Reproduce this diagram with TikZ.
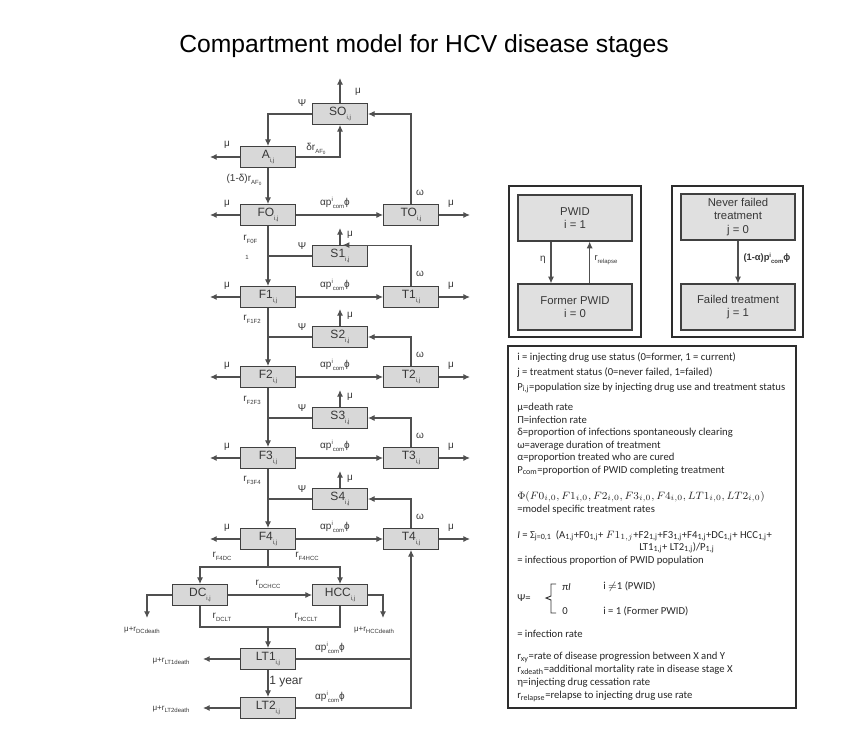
\documentclass[tikz,border=0pt]{standalone}
\usepackage{fontspec}
\setmainfont{Liberation Sans}
\newfontfamily\legendfont{Carlito}
\usepackage{xcolor}
\usepackage{tikz}
\usetikzlibrary{arrows.meta}
\definecolor{boxgray}{RGB}{216,216,216}
\definecolor{boxline}{RGB}{64,64,64}
\definecolor{linegray}{RGB}{80,80,80}
\definecolor{txtgray}{RGB}{55,55,55}
\definecolor{framegray}{RGB}{45,45,45}
\newcommand{\sbx}[1]{\raisebox{-0.55ex}{\fontsize{4.5}{5}\selectfont #1}}
\newcommand{\cmp}[1]{#1\sbx{i,j}}
\newcommand{\rate}[1]{r\sbx{#1}}
\newcommand{\treat}{αp\raisebox{0.7ex}{\fontsize{4.5}{5}\selectfont i}\sbx{com}ϕ}
\newcommand{\legsub}[1]{\textsubscript{#1}}

\begin{document}
\begin{tikzpicture}[x=0.75pt, y=-0.75pt, every node/.style={text=txtgray},
    box/.style={rectangle, draw=boxline, fill=boxgray, line width=0.9pt,
                minimum width=41pt, minimum height=15.5pt, inner sep=0pt,
                font=\fontsize{9}{10}\selectfont},
    state/.style={rectangle, draw=boxline, fill=boxgray!80, line width=0.9pt,
                minimum width=85.5pt, minimum height=34.5pt, inner sep=0pt,
                align=center, font=\fontsize{8.5}{10}\selectfont},
    frame/.style={rectangle, draw=framegray, line width=1.2pt, inner sep=0pt},
    arr/.style={-{Latex[length=5pt,width=4.5pt]}, draw=linegray, line width=0.8pt},
    ln/.style={draw=linegray, line width=0.8pt},
    lbl/.style={font=\fontsize{7.5}{8}\selectfont, inner sep=0pt},
    dth/.style={font=\fontsize{6}{7}\selectfont, inner sep=0pt},
    legtxt/.style={font=\legendfont\fontsize{8}{9.4}\selectfont, anchor=north west,
                   align=left, inner sep=0pt, text=black!85}]

    \useasboundingbox (0,0) rectangle (854,734);

    %% Title
    \node[font=\fontsize{18.5}{20}\selectfont, text=black] (title) at (424,46)
      {Compartment model for HCV disease stages};

    %% Compartments
    \node[box] (SO)  at (340,114) {\cmp{SO}};
    \node[box] (A)   at (268,157) {\cmp{A}};
    \node[box] (FO)  at (268,215) {\cmp{FO}};
    \node[box] (TO)  at (411,215) {\cmp{TO}};
    \node[box] (S1)  at (340,256) {\cmp{S1}};
    \node[box] (F1)  at (268,297) {\cmp{F1}};
    \node[box] (T1)  at (411,297) {\cmp{T1}};
    \node[box] (S2)  at (340,337) {\cmp{S2}};
    \node[box] (F2)  at (268,377) {\cmp{F2}};
    \node[box] (T2)  at (411,377) {\cmp{T2}};
    \node[box] (S3)  at (340,418) {\cmp{S3}};
    \node[box] (F3)  at (268,458) {\cmp{F3}};
    \node[box] (T3)  at (411,458) {\cmp{T3}};
    \node[box] (S4)  at (340,499) {\cmp{S4}};
    \node[box] (F4)  at (268,539) {\cmp{F4}};
    \node[box] (T4)  at (411,539) {\cmp{T4}};
    \node[box] (DC)  at (200,595) {\cmp{DC}};
    \node[box] (HCC) at (340,595) {\cmp{HCC}};
    \node[box] (LT1) at (268,659) {\cmp{LT1}};
    \node[box] (LT2) at (268,708) {\cmp{LT2}};

    %% Free ends
    \coordinate (muSO) at (340,78);
    \coordinate (muA)  at (210,157);
    \coordinate (muFO) at (210,215);
    \coordinate (muTO) at (470,215);
    \coordinate (muS1) at (340,228);
    \coordinate (muF1) at (210,297);
    \coordinate (muT1) at (470,297);
    \coordinate (muS2) at (340,309);
    \coordinate (muF2) at (210,377);
    \coordinate (muT2) at (470,377);
    \coordinate (muS3) at (340,390);
    \coordinate (muF3) at (210,458);
    \coordinate (muT3) at (470,458);
    \coordinate (muS4) at (340,471);
    \coordinate (muF4) at (210,539);
    \coordinate (muT4) at (470,539);
    \coordinate (S1in) at ([xshift=2pt]S1.north);
    \coordinate (split) at (268,567);
    \coordinate (merge) at (268,627);
    \coordinate (DCdeath)  at (147,618);
    \coordinate (HCCdeath) at (383,618);
    \coordinate (muLT1) at (203,659);
    \coordinate (muLT2) at (203,708);

    %% Acute and stage F0
    \draw[arr] (SO.north) -- (muSO);
    \draw[arr] (SO.west) -| (A.north);
    \draw[arr] (A.east) -| (SO.south);
    \draw[arr] (A.west) -- (muA);
    \draw[arr] (A.south) -- (FO.north);
    \draw[arr] (FO.west) -- (muFO);
    \draw[arr] (FO.east) -- (TO.west);
    \draw[arr] (TO.east) -- (muTO);
    \draw[arr] (TO.north) |- (SO.east);

    %% Stage F1
    \draw[arr] (FO.south) -- (F1.north);
    \draw[ln] (S1.west) -- (S1.west -| FO.south);
    \draw[arr] (S1.north) -- (muS1);
    \draw[arr] (T1.north) |- (S1in);
    \draw[arr] (F1.west) -- (muF1);
    \draw[arr] (F1.east) -- (T1.west);
    \draw[arr] (T1.east) -- (muT1);

    %% Stage F2
    \draw[arr] (F1.south) -- (F2.north);
    \draw[ln] (S2.west) -- (S2.west -| F1.south);
    \draw[arr] (S2.north) -- (muS2);
    \draw[arr] (T2.north) |- (S2.east);
    \draw[arr] (F2.west) -- (muF2);
    \draw[arr] (F2.east) -- (T2.west);
    \draw[arr] (T2.east) -- (muT2);

    %% Stage F3
    \draw[arr] (F2.south) -- (F3.north);
    \draw[ln] (S3.west) -- (S3.west -| F2.south);
    \draw[arr] (S3.north) -- (muS3);
    \draw[arr] (T3.north) |- (S3.east);
    \draw[arr] (F3.west) -- (muF3);
    \draw[arr] (F3.east) -- (T3.west);
    \draw[arr] (T3.east) -- (muT3);

    %% Stage F4
    \draw[arr] (F3.south) -- (F4.north);
    \draw[ln] (S4.west) -- (S4.west -| F3.south);
    \draw[arr] (S4.north) -- (muS4);
    \draw[arr] (T4.north) |- (S4.east);
    \draw[arr] (F4.west) -- (muF4);
    \draw[arr] (F4.east) -- (T4.west);
    \draw[arr] (T4.east) -- (muT4);

    %% End stage liver disease and transplant
    \draw[ln] (F4.south) -- (split);
    \draw[arr] (split) -| (DC.north);
    \draw[arr] (split) -| (HCC.north);
    \draw[arr] (DC.east) -- (HCC.west);
    \draw[arr] (DC.west) -| (DCdeath);
    \draw[arr] (HCC.east) -| (HCCdeath);
    \draw[ln] (DC.south) |- (merge) -| (HCC.south);
    \draw[arr] (merge) -- (LT1.north);
    \draw[arr] (LT1.west) -- (muLT1);
    \draw[arr] (LT1.south) -- (LT2.north);
    \draw[arr] (LT2.west) -- (muLT2);
    \draw[arr] (LT1.east) -| (T4.south);
    \draw[ln] (LT2.east) -| (LT1.east -| T4.south);

    %% Rate labels
    \node[lbl] (lmuSO) at (358,92) {μ};
    \node[lbl] (lpsiSO) at (302,103) {Ψ};
    \node[lbl] (ldelta) at (316,149) {δ\rate{AF\raisebox{-0.3ex}{\fontsize{3.5}{4}\selectfont 0}}};
    \node[lbl] (lmuA) at (227,145) {μ};
    \node[lbl] (lacute) at (244,180) {(1-δ)\rate{AF\raisebox{-0.3ex}{\fontsize{3.5}{4}\selectfont 0}}};
    \node[lbl] (lmuFO) at (227,204) {μ};
    \node[lbl] (ltrFO) at (335,203) {\treat};
    \node[lbl] (lmuTO) at (451,204) {μ};
    \node[lbl] (lomTO) at (420,193) {ω};

    \node[lbl, anchor=west] (lr01) at (243,239) {\rate{F0F}};
    \node[lbl, font=\fontsize{4.5}{5}\selectfont] (lr01b) at (247,257) {1};
    \node[lbl] (lpsiS1) at (302,246) {Ψ};
    \node[lbl] (lmuS1) at (350,235) {μ};
    \node[lbl] (lmuF1) at (227,286) {μ};
    \node[lbl] (ltrF1) at (335,285) {\treat};
    \node[lbl] (lmuT1) at (451,286) {μ};
    \node[lbl] (lomT1) at (420,274) {ω};

    \node[lbl, anchor=west] (lr12) at (243,319) {\rate{F1F2}};
    \node[lbl] (lpsiS2) at (302,327) {Ψ};
    \node[lbl] (lmuS2) at (350,316) {μ};
    \node[lbl] (lmuF2) at (227,366) {μ};
    \node[lbl] (ltrF2) at (335,365) {\treat};
    \node[lbl] (lmuT2) at (451,366) {μ};
    \node[lbl] (lomT2) at (420,355) {ω};

    \node[lbl, anchor=west] (lr23) at (243,400) {\rate{F2F3}};
    \node[lbl] (lpsiS3) at (302,408) {Ψ};
    \node[lbl] (lmuS3) at (350,397) {μ};
    \node[lbl] (lmuF3) at (227,447) {μ};
    \node[lbl] (ltrF3) at (335,446) {\treat};
    \node[lbl] (lmuT3) at (451,447) {μ};
    \node[lbl] (lomT3) at (420,436) {ω};

    \node[lbl, anchor=west] (lr34) at (243,480) {\rate{F3F4}};
    \node[lbl] (lpsiS4) at (302,489) {Ψ};
    \node[lbl] (lmuS4) at (350,479) {μ};
    \node[lbl] (lmuF4) at (227,528) {μ};
    \node[lbl] (ltrF4) at (335,527) {\treat};
    \node[lbl] (lmuT4) at (451,528) {μ};
    \node[lbl] (lomT4) at (420,517) {ω};

    \node[lbl] (lr4dc) at (222,556) {\rate{F4DC}};
    \node[lbl] (lr4hcc) at (307,556) {\rate{F4HCC}};
    \node[lbl] (lrdchcc) at (268,584) {\rate{DCHCC}};
    \node[lbl] (lrdclt) at (222,617) {\rate{DCLT}};
    \node[lbl] (lrhcclt) at (306,617) {\rate{HCCLT}};
    \node[dth] (ldcdeath) at (142,630) {μ+\rate{DCdeath}};
    \node[dth] (lhccdeath) at (374,630) {μ+\rate{HCCdeath}};
    \node[dth] (llt1death) at (171,661) {μ+\rate{LT1death}};
    \node[dth] (llt2death) at (171,709) {μ+\rate{LT2death}};
    \node[lbl] (ltrLT1) at (330,648) {\treat};
    \node[lbl] (ltrLT2) at (330,697) {\treat};
    \node[lbl, font=\fontsize{9}{10}\selectfont] (lyear) at (286,682) {1 year};

    %% Drug use status
    \node[frame, minimum width=99pt, minimum height=113pt] (frameI) at (575,261.5) {};
    \node[state] (pwid) at (575,218) {PWID\\i = 1};
    \node[state] (former) at (575,307) {Former PWID\\i = 0};
    \draw[arr] ([xshift=-18pt]pwid.south) -- ([xshift=-18pt]former.north);
    \draw[arr] ([xshift=11pt]former.north) -- ([xshift=11pt]pwid.south);
    \node[lbl] (leta) at (543,260) {η};
    \node[lbl, font=\fontsize{7}{8}\selectfont] (lrelapse) at (606,260) {\rate{relapse}};

    %% Treatment status
    \node[frame, minimum width=98pt, minimum height=113pt] (frameJ) at (737.5,261.5) {};
    \node[state] (never) at (738,217) {Never failed\\treatment\\j = 0};
    \node[state] (failed) at (738,307) {Failed treatment\\j = 1};
    \draw[arr] (never.south) -- (failed.north);
    \node[lbl, font=\bfseries\fontsize{7}{8}\selectfont] (lfail) at (767,258)
      {(1-α)p\raisebox{0.7ex}{\fontsize{4.5}{5}\selectfont i}\sbx{com}ϕ};

    %% Legend
    \node[frame, minimum width=216pt, minimum height=271.5pt] (legend) at (652,527) {};
    \node[legtxt, font=\legendfont\fontsize{8}{11.25}\selectfont] (legA) at (517,352)
      {i = injecting drug use status (0=former, 1 = current)\\
       j = treatment status (0=never failed, 1=failed)\\
       P\legsub{i,j}=population size by injecting drug use and treatment status};
    \node[legtxt] (legB) at (517,403)
      {μ=death rate\\
       Π=infection rate\\
       δ=proportion of infections spontaneously clearing\\
       ω=average duration of treatment\\
       α=proportion treated who are cured\\
       P\legsub{com}=proportion of PWID completing treatment};
    \node[legtxt, font=\legendfont\fontsize{8}{9.75}\selectfont] (legC) at (517,491)
      {$\Phi(F0_{i,0}, F1_{i,0}, F2_{i,0}, F3_{i,0}, F4_{i,0}, LT1_{i,0}, LT2_{i,0})$\\
       =model specific treatment rates};
    \node[legtxt] (legD) at (517,530)
      {\textit{I} = Σ\legsub{j=0,1}\, (A\legsub{1,j}+F0\legsub{1,j}+ $F1_{1,j}$+F2\legsub{1,j}+F3\legsub{1,j}+F4\legsub{1,j}+DC\legsub{1,j}+ HCC\legsub{1,j}+};
    \node[legtxt] (legD2) at (639,542)
      {LT1\legsub{1,j}+ LT2\legsub{1,j})/P\legsub{1,j}};
    \node[legtxt] (legD3) at (517,556) {= infectious proportion of PWID population};
    \node[legtxt, anchor=west] (legpsi) at (517,598) {Ψ=};
    \draw[ln, draw=black!80, line width=0.7pt] (556,584) -- (551,584) -- (551,596)
      -- (546,598) -- (551,600) -- (551,613) -- (556,613);
    \node[legtxt, anchor=west] (legpi) at (562,587) {π\textit{I}};
    \node[legtxt, anchor=west] (legpwid) at (603,587) {i $\neq$1 (PWID)};
    \node[legtxt, anchor=west] (legzero) at (562,611) {0};
    \node[legtxt, anchor=west] (legformer) at (603,611) {i = 1 (Former PWID)};
    \node[legtxt] (legE) at (517,630) {= infection rate};
    \node[legtxt, font=\legendfont\fontsize{8}{9.75}\selectfont] (legF) at (517,652)
      {r\legsub{xy}=rate of disease progression between X and Y\\
       r\legsub{xdeath}=additional mortality rate in disease stage X\\
       η=injecting drug cessation rate\\
       r\legsub{relapse}=relapse to injecting drug use rate};
  \end{tikzpicture}
\end{document}
